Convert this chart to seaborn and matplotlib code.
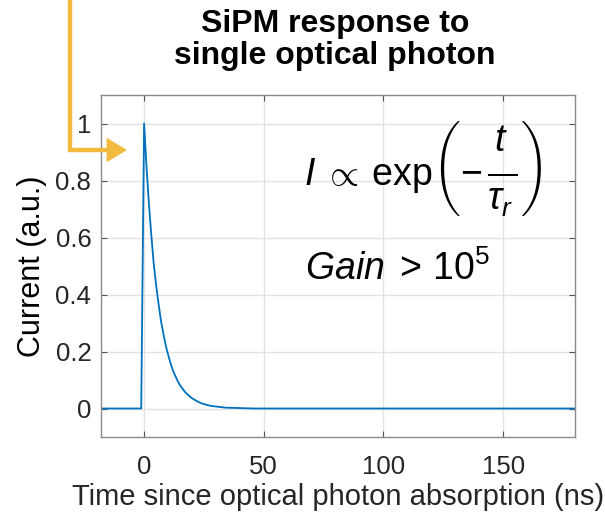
import matplotlib
matplotlib.use("Agg")
import matplotlib.pyplot as plt
import seaborn as sns
import pandas as pd
from matplotlib.patches import FancyArrowPatch
from matplotlib.path import Path

# data
time_ns = [-20, -1.2, 0, 1, 2, 3, 4, 5, 6, 7, 8, 9, 10, 11, 12, 13, 14, 15, 16,
           17, 18, 20, 22, 24, 26, 28, 30, 34, 38, 42, 46, 60, 180]
current = [0, 0, 1.0, 0.85, 0.72, 0.61, 0.51, 0.435, 0.37, 0.31, 0.265, 0.223,
           0.19, 0.16, 0.135, 0.115, 0.097, 0.082, 0.07, 0.059, 0.05, 0.036,
           0.026, 0.018, 0.013, 0.009, 0.007, 0.003, 0.002, 0.001, 0.0, 0.0, 0.0]
x_ticks = [0, 50, 100, 150]
y_ticks = [0, 0.2, 0.4, 0.6, 0.8, 1.0]
y_tick_labels = ["0", "0.2", "0.4", "0.6", "0.8", "1"]
title_text = "SiPM response to\nsingle optical photon"
x_label = "Time since optical photon absorption (ns)"
y_label = "Current (a.u.)"

sns.set_theme(style="white")
plt.rcParams["font.family"] = ["Liberation Sans", "DejaVu Sans"]
plt.rcParams["mathtext.fontset"] = "custom"
plt.rcParams["mathtext.rm"] = "Liberation Sans"
plt.rcParams["mathtext.it"] = "Liberation Sans:italic"
plt.rcParams["mathtext.bf"] = "Liberation Sans:bold"

W, H = 605, 516
fig = plt.figure(figsize=(W / 100, H / 100), dpi=100)
ax = fig.add_axes([101 / W, 1 - 437 / H, (575 - 101) / W, (437 - 95) / H])

df = pd.DataFrame({"t": time_ns, "I": current})
sns.lineplot(data=df, x="t", y="I", ax=ax, color="#0072BD", linewidth=1.3,
             estimator=None, sort=False)

ax.set_xlim(-18, 180)
ax.set_ylim(-0.1, 1.1)
ax.set_xticks(x_ticks)
ax.set_yticks(y_ticks)
ax.set_yticklabels(y_tick_labels)
ax.grid(True, color="#e3e3e3", linewidth=1.0)
ax.set_axisbelow(True)
for s in ax.spines.values():
    s.set_color("#8a8a8a")
    s.set_linewidth(1.0)
ax.tick_params(axis="both", direction="in", length=4, width=0.8, color="#555555",
               labelsize=18.5, labelcolor="#262626", top=True, right=True,
               bottom=True, left=True, pad=7)
ax.tick_params(axis="x", pad=13)
ax.set_xlabel(x_label, fontsize=21, color="#262626", labelpad=3)
ax.set_ylabel(y_label, fontsize=22, color="#000000", labelpad=6)

fig.text(335 / W, 1 - 40 / H, title_text, ha="center", va="center",
         fontsize=23, fontweight="bold", linespacing=1.1, color="black")

# equations
eq1 = (r"$I\;\propto\:\mathrm{exp}\left(-\,"
       r"\dfrac{\genfrac{}{}{0}{0}{t}{\,}}{\genfrac{}{}{0}{0}{\,}{\tau_r}}"
       r"\right)$")
ax.text(0.428, 0.785, eq1, transform=ax.transAxes, fontsize=27,
        ha="left", va="center", color="black")
ax.text(0.43, 0.49, r"$Gain\;>\,\mathrm{10}^{5}$",
        transform=ax.transAxes, fontsize=27, ha="left", va="center", color="black")

# yellow arrow
pts = [(70 / W, 1.0), (70 / W, 1 - 150 / H), (127 / W, 1 - 150 / H)]
path = Path(pts, [Path.MOVETO, Path.LINETO, Path.LINETO])
arrow = FancyArrowPatch(path=path, arrowstyle="-|>,head_length=10,head_width=6",
                        color="#F2BB40", linewidth=3.2, transform=fig.transFigure,
                        joinstyle="miter", capstyle="butt")
fig.add_artist(arrow)

fig.savefig("out.png", dpi=100)
